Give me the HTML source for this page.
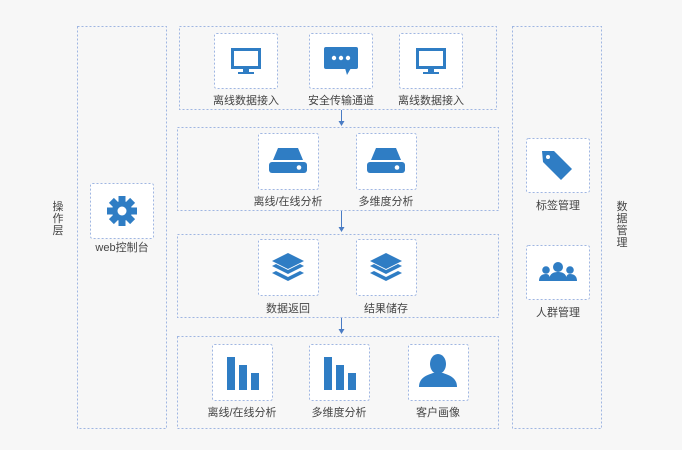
<!DOCTYPE html>
<html><head><meta charset="utf-8"><style>
html,body{margin:0;padding:0;background:#f7f7f7;}
svg{display:block;}
text{font-family:"Liberation Sans","Noto Sans CJK SC",sans-serif;font-size:11px;fill:#444;}
</style></head><body>
<svg width="682" height="450" viewBox="0 0 682 450" xmlns="http://www.w3.org/2000/svg">
<defs>
<g id="mon"><rect x="-15" y="-13" width="30" height="21" fill="#2f7dc4"/><rect x="-12" y="-10" width="24" height="15" fill="#fff"/><rect x="-3" y="8" width="6" height="3" fill="#2f7dc4"/><rect x="-8" y="11" width="16" height="2" fill="#2f7dc4"/></g>
<g id="chat"><rect x="-17" y="-13" width="34" height="22" rx="2" fill="#2f7dc4"/><polygon points="4,8 10,8 6,15" fill="#2f7dc4"/><circle cx="-7" cy="-2" r="2.2" fill="#fff"/><circle cx="0" cy="-2" r="2.2" fill="#fff"/><circle cx="7" cy="-2" r="2.2" fill="#fff"/></g>
<g id="drive"><polygon points="-10,-12 10,-12 15,0 -15,0" fill="#2f7dc4"/><rect x="-19" y="2" width="38" height="11" rx="3" fill="#2f7dc4"/><circle cx="11" cy="7.5" r="2.3" fill="#fff"/></g>
<g id="layers"><polygon points="0,-16 16,-8 0,0 -16,-8" fill="#2f7dc4"/><polygon points="-16,-3 -12,-5 0,1 12,-5 16,-3 0,5" fill="#2f7dc4"/><polygon points="-16,4 -12,2 0,8 12,2 16,4 0,12" fill="#2f7dc4"/></g>
<g id="bars"><rect x="-15" y="-16" width="8" height="33" fill="#2f7dc4"/><rect x="-3" y="-8" width="8" height="25" fill="#2f7dc4"/><rect x="9" y="0" width="8" height="17" fill="#2f7dc4"/></g>
<g id="person"><ellipse cx="0" cy="-7" rx="8" ry="10" fill="#2f7dc4"/><path d="M-19,16 C-19,6 -10,4 -5,2 L5,2 C10,4 19,6 19,16 Z" fill="#2f7dc4"/></g>
<g id="gear"><g fill="#2f7dc4"><circle r="10"/><rect x="-3.5" y="-15" width="7" height="30"/><rect x="-3.5" y="-15" width="7" height="30" transform="rotate(45)"/><rect x="-3.5" y="-15" width="7" height="30" transform="rotate(90)"/><rect x="-3.5" y="-15" width="7" height="30" transform="rotate(135)"/></g><circle r="4.5" fill="#fff"/></g>
<g id="tag"><path d="M-16,-14 L-4,-14 L14,4 L3,15 L-15,-3 Z" fill="#2f7dc4" transform="rotate(0)"/><circle cx="-10" cy="-8" r="2" fill="#fff"/></g>
<g id="group"><circle cx="0" cy="-5" r="5" fill="#2f7dc4"/><path d="M-9,9 C-9,2 -5,0 0,0 C5,0 9,2 9,9 Z" fill="#2f7dc4"/><circle cx="-12" cy="-2" r="3.8" fill="#2f7dc4"/><path d="M-19,9 C-19,4 -16,2 -12,2 C-9,2 -8,4 -8,9 Z" fill="#2f7dc4"/><circle cx="12" cy="-2" r="3.8" fill="#2f7dc4"/><path d="M19,9 C19,4 16,2 12,2 C9,2 8,4 8,9 Z" fill="#2f7dc4"/></g>
</defs>
<g fill="none" stroke="#9fb6e2" stroke-width="1" stroke-dasharray="2,2">
<rect x="77.5" y="26.5" width="89" height="402"/>
<rect x="512.5" y="26.5" width="89" height="402"/>
<rect x="179.5" y="26.5" width="317" height="83"/>
<rect x="177.5" y="127.5" width="321" height="83"/>
<rect x="177.5" y="234.5" width="321" height="83"/>
<rect x="177.5" y="336.5" width="321" height="92"/>
</g>
<g fill="#fff" stroke="#9fb6e2" stroke-width="1" stroke-dasharray="2,2">
<rect x="214.5" y="33.5" width="63" height="55" rx="2"/>
<rect x="309.5" y="33.5" width="63" height="55" rx="2"/>
<rect x="399.5" y="33.5" width="63" height="55" rx="2"/>
<rect x="258.5" y="133.5" width="60" height="56" rx="2"/>
<rect x="356.5" y="133.5" width="60" height="56" rx="2"/>
<rect x="258.5" y="239.5" width="60" height="56" rx="2"/>
<rect x="356.5" y="239.5" width="60" height="56" rx="2"/>
<rect x="212.5" y="344.5" width="60" height="56" rx="2"/>
<rect x="309.5" y="344.5" width="60" height="56" rx="2"/>
<rect x="408.5" y="344.5" width="60" height="56" rx="2"/>
<rect x="90.5" y="183.5" width="63" height="55" rx="2"/>
<rect x="526.5" y="138.5" width="63" height="54" rx="2"/>
<rect x="526.5" y="245.5" width="63" height="54" rx="2"/>
</g>
<use href="#mon" x="246" y="61"/>
<use href="#chat" x="341" y="60"/>
<use href="#mon" x="431" y="61"/>
<use href="#drive" x="288" y="160"/>
<use href="#drive" x="386" y="160"/>
<use href="#layers" x="288" y="269"/>
<use href="#layers" x="386" y="269"/>
<use href="#bars" x="242" y="373"/>
<use href="#bars" x="339" y="373"/>
<use href="#person" x="438" y="371"/>
<use href="#gear" x="122" y="211"/>
<use href="#tag" x="558" y="165"/>
<use href="#group" x="558" y="272"/>
<g stroke="#4a7cc4" stroke-width="1"><line x1="341.5" y1="110" x2="341.5" y2="123"/><line x1="341.5" y1="211" x2="341.5" y2="229"/><line x1="341.5" y1="318" x2="341.5" y2="331"/></g>
<g fill="#4a7cc4"><polygon points="338.5,121 344.5,121 341.5,126"/><polygon points="338.5,227 344.5,227 341.5,232"/><polygon points="338.5,329 344.5,329 341.5,334"/></g>
<g text-anchor="middle">
<text x="246" y="104">离线数据接入</text>
<text x="341" y="104">安全传输通道</text>
<text x="431" y="104">离线数据接入</text>
<text x="288" y="205">离线/在线分析</text>
<text x="386" y="205">多维度分析</text>
<text x="288" y="312">数据返回</text>
<text x="386" y="312">结果储存</text>
<text x="242" y="416">离线/在线分析</text>
<text x="339" y="416">多维度分析</text>
<text x="438" y="416">客户画像</text>
<text x="122" y="251">web控制台</text>
<text x="558" y="209">标签管理</text>
<text x="558" y="316">人群管理</text>
<text x="58" y="210">操</text><text x="58" y="222">作</text><text x="58" y="234">层</text>
<text x="622" y="210">数</text><text x="622" y="222">据</text><text x="622" y="234">管</text><text x="622" y="246">理</text>
</g>
</svg>
</body></html>
